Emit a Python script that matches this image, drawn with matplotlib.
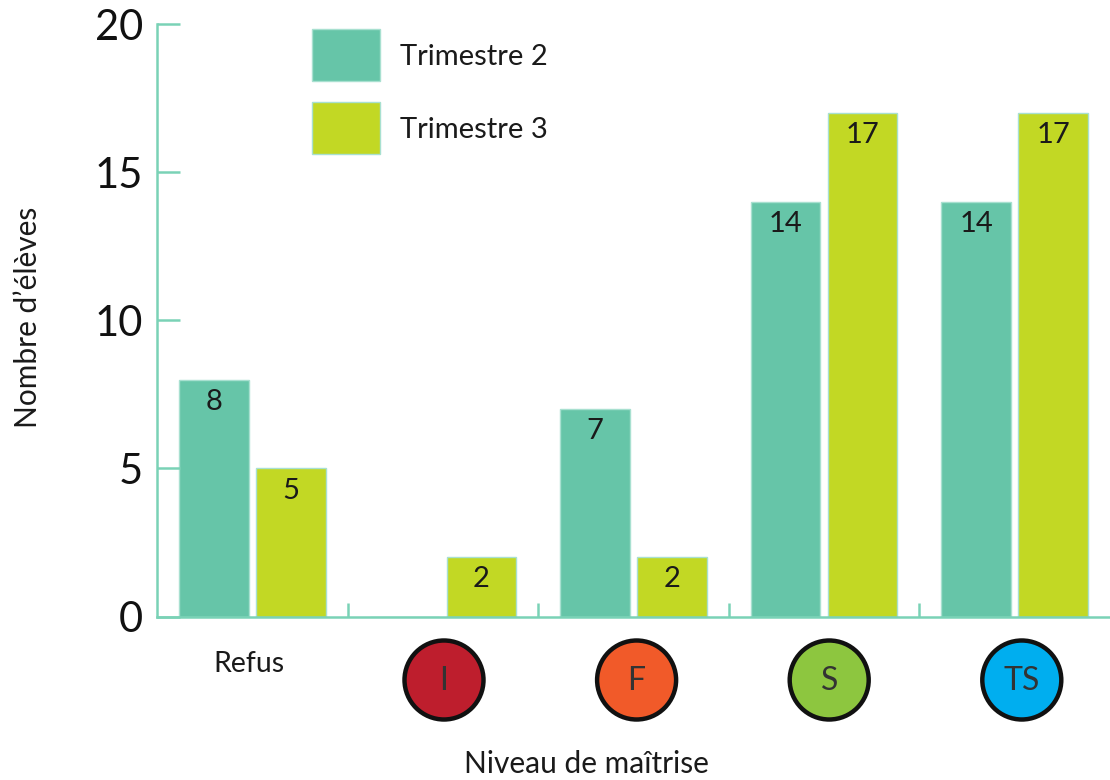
import numpy as np
import matplotlib
matplotlib.use("Agg")
import matplotlib.pyplot as plt
from matplotlib.patches import Circle

plt.rcParams['font.family'] = ['Lato', 'DejaVu Sans']

levels = ['Refus', 'I', 'F', 'S', 'TS']
trimestre2 = [8, 0, 7, 14, 14]
trimestre3 = [5, 2, 2, 17, 17]
badge_colors = [None, '#BE1E2D', '#F15A29', '#8DC63F', '#00AEEF']
yticks = [0, 5, 10, 15, 20]

GREEN = '#66C5A8'
LIME = '#C2D824'
AXIS = '#7AD2B6'
EDGE = '#A8E0D0'
INK = '#1a1a1a'

W, H = 1110, 780
fig = plt.figure(figsize=(W / 100, H / 100), dpi=100)
ax = fig.add_axes([157 / W, 1 - 616.5 / H, (1110 - 157) / W, (616.5 - 24) / H])
ax.set_xlim(0, 5)
ax.set_ylim(0, 20)

x = np.arange(5)
w = 69.5 / 190.6
off = 38.5 / 190.6
ax.bar(x + 0.5 - off, trimestre2, w, color=GREEN, edgecolor=EDGE, linewidth=1)
ax.bar(x + 0.5 + off, trimestre3, w, color=LIME, edgecolor=EDGE, linewidth=1)

for i in range(5):
    if trimestre2[i] > 0:
        ax.text(i + 0.5 - off, trimestre2[i] - 0.75, str(trimestre2[i]), ha='center', va='center',
                fontsize=21, color=INK)
    ax.text(i + 0.5 + off, trimestre3[i] - 0.75, str(trimestre3[i]), ha='center', va='center',
            fontsize=21, color=INK)

for s in ['top', 'right']:
    ax.spines[s].set_visible(False)
for s in ['left', 'bottom']:
    ax.spines[s].set_color(AXIS)
    ax.spines[s].set_linewidth(1.8)

ax.set_yticks(yticks)
ax.tick_params(axis='y', direction='in', length=16.5, width=1.8, color=AXIS, labelsize=30, pad=10, labelcolor='#111111')
ax.set_xticks(np.arange(1, 5))
ax.set_xticklabels([])
ax.tick_params(axis='x', direction='in', length=10, width=1.8, color=AXIS)

# legend drawn by hand as two swatches
for yy, col, lab in [(55, GREEN, 'Trimestre 2'), (128, LIME, 'Trimestre 3')]:
    fig.patches.append(plt.Rectangle((312 / W, 1 - (yy + 26) / H), 68 / W, 52 / H, transform=fig.transFigure,
                                     facecolor=col, edgecolor=EDGE, linewidth=1))
    fig.text(400 / W, 1 - (yy + 2) / H, lab, fontsize=21, va='center', ha='left', color=INK)

fig.text(249 / W, 1 - 664 / H, levels[0], fontsize=20.5, ha='center', va='center', color=INK)

# circled mastery levels under the axis
over = fig.add_axes([0, 0, 1, 1], facecolor='none')
over.set_xlim(0, W)
over.set_ylim(H, 0)
over.axis('off')
for i in range(1, 5):
    cx = 444 + 192.6 * (i - 1)
    over.add_patch(Circle((cx, 680), 39.5, facecolor=badge_colors[i], edgecolor='#111111', linewidth=3.2))
    over.text(cx, 681, levels[i], fontsize=23, ha='center', va='center', color='#333333')

fig.text(586 / W, 1 - 764 / H, 'Niveau de maîtrise', fontsize=21.5, ha='center', va='center', color=INK)
fig.text(28 / W, 1 - 317 / H, 'Nombre d\u2019élèves', fontsize=21.5, rotation=90, ha='center', va='center', color=INK)

fig.savefig('out.png', dpi=100, facecolor='white')
